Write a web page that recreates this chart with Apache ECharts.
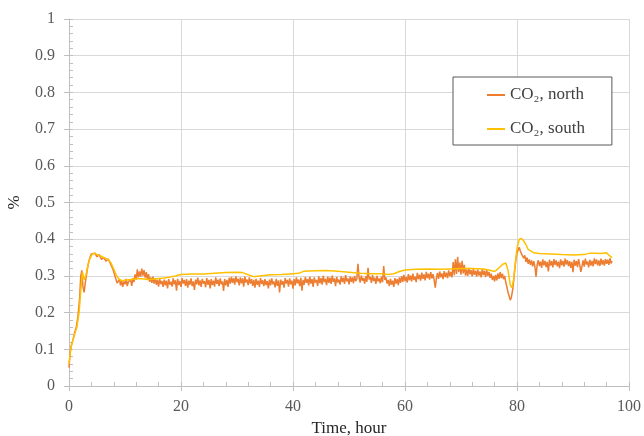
<!DOCTYPE html>
<html>
<head>
<meta charset="utf-8">
<script src="https://cdn.jsdelivr.net/npm/echarts@6/dist/echarts.min.js"></script>
<style>
html,body{margin:0;padding:0;background:#fff;}
#chart{width:644px;height:436px;}
</style>
</head>
<body>
<div id="chart"></div>
<script>
// ---- data ----
const seriesNames = ['CO\u2082, north', 'CO\u2082, south'];

// north: early transient (explicit times)
const northEarlyTime = [0, 0.2, 0.4, 0.7, 1.0, 1.3, 1.6, 1.9, 2.1, 2.3, 2.5, 2.7, 2.9, 3.1, 3.4, 3.7, 4.0, 4.3, 4.6, 5.0, 5.4, 5.8, 6.2, 6.6, 7.0, 7.4, 7.8, 8.2, 8.6];
const northEarly = [0.05, 0.09, 0.11, 0.125, 0.145, 0.16, 0.19, 0.24, 0.30, 0.315, 0.27, 0.255, 0.28, 0.30, 0.33, 0.348, 0.36, 0.356, 0.362, 0.352, 0.358, 0.345, 0.350, 0.340, 0.346, 0.333, 0.320, 0.300, 0.280];

// north: logged every 0.2 h from 9 h (rows of 2 h)
const northLogStart = 9;
const northLogStep = 0.2;
const northLog = [
  0.291, 0.274, 0.288, 0.270, 0.285, 0.277, 0.292, 0.272, 0.284, 0.279,
  0.289, 0.273, 0.294, 0.283, 0.304, 0.290, 0.318, 0.296, 0.312, 0.298,
  0.320, 0.301, 0.316, 0.295, 0.310, 0.289, 0.305, 0.284, 0.296, 0.281,
  0.298, 0.279, 0.293, 0.276, 0.289, 0.271, 0.292, 0.278, 0.286, 0.270,
  0.290, 0.274, 0.287, 0.266, 0.291, 0.276, 0.284, 0.271, 0.293, 0.277,
  0.288, 0.260, 0.292, 0.275, 0.286, 0.270, 0.294, 0.279, 0.289, 0.273,
  0.291, 0.268, 0.287, 0.276, 0.293, 0.272, 0.285, 0.262, 0.290, 0.277,
  0.295, 0.274, 0.288, 0.270, 0.292, 0.279, 0.286, 0.269, 0.294, 0.276,
  0.289, 0.266, 0.291, 0.275, 0.287, 0.271, 0.296, 0.278, 0.290, 0.272,
  0.293, 0.277, 0.285, 0.259, 0.292, 0.274, 0.289, 0.270, 0.295, 0.279,
  0.297, 0.281, 0.294, 0.276, 0.299, 0.283, 0.292, 0.274, 0.296, 0.280,
  0.293, 0.271, 0.298, 0.282, 0.290, 0.275, 0.296, 0.279, 0.291, 0.273,
  0.289, 0.268, 0.292, 0.276, 0.287, 0.270, 0.294, 0.278, 0.288, 0.272,
  0.291, 0.275, 0.286, 0.266, 0.290, 0.274, 0.293, 0.277, 0.285, 0.269,
  0.292, 0.273, 0.288, 0.255, 0.290, 0.276, 0.286, 0.268, 0.294, 0.279,
  0.289, 0.271, 0.293, 0.277, 0.287, 0.265, 0.291, 0.274, 0.296, 0.280,
  0.290, 0.272, 0.295, 0.260, 0.289, 0.276, 0.297, 0.281, 0.292, 0.274,
  0.298, 0.279, 0.291, 0.270, 0.296, 0.282, 0.289, 0.273, 0.299, 0.280,
  0.294, 0.276, 0.300, 0.283, 0.292, 0.275, 0.298, 0.281, 0.295, 0.278,
  0.301, 0.284, 0.293, 0.272, 0.297, 0.282, 0.290, 0.276, 0.299, 0.283,
  0.295, 0.278, 0.302, 0.285, 0.293, 0.277, 0.298, 0.284, 0.296, 0.280,
  0.300, 0.286, 0.292, 0.333, 0.295, 0.282, 0.301, 0.287, 0.294, 0.279,
  0.299, 0.284, 0.322, 0.290, 0.297, 0.281, 0.302, 0.286, 0.295, 0.278,
  0.300, 0.285, 0.293, 0.280, 0.298, 0.283, 0.327, 0.289, 0.296, 0.279,
  0.289, 0.272, 0.292, 0.276, 0.287, 0.270, 0.294, 0.279, 0.291, 0.275,
  0.296, 0.281, 0.299, 0.284, 0.303, 0.286, 0.297, 0.282, 0.305, 0.288,
  0.301, 0.285, 0.306, 0.289, 0.298, 0.283, 0.308, 0.291, 0.303, 0.287,
  0.309, 0.292, 0.304, 0.288, 0.311, 0.294, 0.306, 0.290, 0.310, 0.293,
  0.305, 0.289, 0.268, 0.293, 0.308, 0.292, 0.312, 0.296, 0.307, 0.291,
  0.313, 0.297, 0.309, 0.294, 0.315, 0.299, 0.311, 0.296, 0.338, 0.302,
  0.345, 0.305, 0.352, 0.310, 0.336, 0.303, 0.341, 0.307, 0.330, 0.301,
  0.318, 0.300, 0.322, 0.304, 0.316, 0.299, 0.320, 0.303, 0.314, 0.298,
  0.317, 0.301, 0.312, 0.296, 0.319, 0.302, 0.314, 0.297, 0.316, 0.300,
  0.311, 0.295, 0.306, 0.289, 0.300, 0.285, 0.303, 0.288, 0.307, 0.292,
  0.310, 0.294, 0.306, 0.291, 0.300, 0.282, 0.270, 0.255, 0.245, 0.234,
  0.242, 0.260, 0.285, 0.318, 0.345, 0.362, 0.370, 0.378, 0.368, 0.360,
  0.365, 0.348, 0.356, 0.338, 0.350, 0.333, 0.345, 0.330, 0.342, 0.326,
  0.340, 0.325, 0.298, 0.331, 0.343, 0.327, 0.339, 0.322, 0.345, 0.329,
  0.341, 0.324, 0.338, 0.312, 0.344, 0.328, 0.340, 0.323, 0.346, 0.330,
  0.342, 0.326, 0.339, 0.321, 0.345, 0.329, 0.341, 0.325, 0.347, 0.331,
  0.343, 0.327, 0.340, 0.322, 0.338, 0.310, 0.344, 0.328, 0.341, 0.324,
  0.346, 0.330, 0.311, 0.326, 0.342, 0.325, 0.347, 0.331, 0.339, 0.323,
  0.344, 0.328, 0.341, 0.326, 0.348, 0.332, 0.345, 0.329, 0.342, 0.327,
  0.347, 0.331, 0.343, 0.328, 0.346, 0.333, 0.344, 0.330, 0.348, 0.334,
  0.340
];

// south (smoother)
const southTime = [
  0, 0.3, 0.6, 1.0, 1.4, 1.8, 2.1, 2.4, 2.7, 3.0,
  3.4, 3.8, 4.2, 4.6, 5.0, 5.5, 6.0, 6.5, 7.0, 7.5,
  8.0, 8.5, 9.0, 9.5, 10, 11, 12, 13, 14, 15,
  16, 17, 18, 19, 20, 22, 24, 26, 28, 30,
  31, 32, 33, 34, 36, 38, 40, 41, 42, 44,
  46, 48, 50, 52, 54, 56, 57, 58, 59, 60,
  62, 64, 66, 68, 70, 72, 74, 75, 76, 76.5,
  77, 77.5, 78, 78.4, 78.8, 79.1, 79.4, 79.7, 80, 80.4,
  80.8, 81.2, 81.6, 82, 83, 84, 86, 88, 90, 92,
  93, 94, 95, 96, 96.5, 97
];
const south = [
  0.06, 0.10, 0.12, 0.14, 0.16, 0.20, 0.26, 0.31, 0.29, 0.30,
  0.33, 0.35, 0.36, 0.362, 0.358, 0.355, 0.352, 0.348, 0.345, 0.335,
  0.318, 0.300, 0.290, 0.287, 0.288, 0.290, 0.292, 0.292, 0.290, 0.291,
  0.293, 0.294, 0.297, 0.300, 0.304, 0.305, 0.305, 0.307, 0.309, 0.310,
  0.309, 0.303, 0.298, 0.300, 0.303, 0.304, 0.306, 0.307, 0.313, 0.314,
  0.315, 0.313, 0.310, 0.307, 0.306, 0.306, 0.304, 0.306, 0.312, 0.316,
  0.318, 0.319, 0.318, 0.319, 0.320, 0.320, 0.319, 0.316, 0.312, 0.318,
  0.325, 0.332, 0.335, 0.315, 0.275, 0.268, 0.290, 0.335, 0.375, 0.400,
  0.402, 0.395, 0.385, 0.372, 0.363, 0.361, 0.360, 0.358, 0.357, 0.358,
  0.362, 0.362, 0.361, 0.363, 0.355, 0.350
];

const xName = 'Time, hour';
const yName = '%';

// ---- build series data ----
const northData = northEarlyTime.map((t, i) => [t, northEarly[i]])
  .concat(northLog.map((v, i) => [+(northLogStart + i * northLogStep).toFixed(2), v]));
const southData = southTime.map((t, i) => [t, south[i]]);

const FONT = '"Liberation Serif", "DejaVu Serif", serif';
const AXIS_COLOR = '#BFBFBF';
const GRID_COLOR = '#D9D9D9';
const LABEL_COLOR = '#595959';

const chart = echarts.init(document.getElementById('chart'), null, {renderer: 'canvas'});
chart.setOption({
  backgroundColor: '#ffffff',
  animation: false,
  textStyle: {fontFamily: FONT},
  grid: {left: 69, right: 15, top: 19, bottom: 50, containLabel: false, outerBoundsMode: 'none'},
  legend: {
    orient: 'vertical',
    left: 453, top: 77,
    padding: [9, 27, 7, 34],
    itemGap: 16,
    itemWidth: 18,
    itemHeight: 2,
    itemTextGap: 3,
    icon: 'rect',
    borderColor: '#595959',
    borderWidth: 1,
    backgroundColor: '#ffffff',
    textStyle: {fontFamily: FONT, fontSize: 17, color: '#404040', lineHeight: 18},
    data: seriesNames
  },
  xAxis: [{
    type: 'value', min: 0, max: 100, interval: 20,
    name: xName, nameLocation: 'middle', nameGap: 33,
    nameTextStyle: {fontFamily: FONT, fontSize: 17, color: '#262626'},
    axisLine: {show: true, lineStyle: {color: AXIS_COLOR, width: 1}},
    axisTick: {show: true, length: 5, lineStyle: {color: AXIS_COLOR}},
    axisLabel: {fontFamily: FONT, fontSize: 16, color: LABEL_COLOR, margin: 13},
    splitLine: {show: true, lineStyle: {color: GRID_COLOR, width: 1}}
  }, {
    type: 'value', min: 0, max: 100, interval: 4, position: 'bottom',
    axisLine: {show: false},
    axisTick: {show: true, inside: true, length: 4, lineStyle: {color: AXIS_COLOR}},
    axisLabel: {show: false},
    splitLine: {show: false}
  }],
  yAxis: [{
    type: 'value', min: 0, max: 1, interval: 0.1,
    name: yName, nameLocation: 'middle', nameGap: 46, nameRotate: 90,
    nameTextStyle: {fontFamily: FONT, fontSize: 17, color: '#262626'},
    axisLine: {show: true, lineStyle: {color: AXIS_COLOR, width: 1}},
    axisTick: {show: true, length: 5, lineStyle: {color: AXIS_COLOR}},
    axisLabel: {fontFamily: FONT, fontSize: 16, color: LABEL_COLOR, margin: 14},
    splitLine: {show: true, lineStyle: {color: GRID_COLOR, width: 1}}
  }, {
    type: 'value', min: 0, max: 1, interval: 0.02, position: 'left',
    axisLine: {show: false},
    axisTick: {show: true, inside: true, length: 4, lineStyle: {color: AXIS_COLOR}},
    axisLabel: {show: false},
    splitLine: {show: false}
  }],
  series: [{
    name: seriesNames[0], type: 'line', xAxisIndex: 0, yAxisIndex: 0,
    data: northData, showSymbol: false, symbol: 'none',
    lineStyle: {color: '#ED7D31', width: 1.5},
    itemStyle: {color: '#ED7D31'},
    z: 2
  }, {
    name: seriesNames[1], type: 'line', xAxisIndex: 0, yAxisIndex: 0,
    data: southData, showSymbol: false, symbol: 'none',
    lineStyle: {color: '#FFC000', width: 1.5},
    itemStyle: {color: '#FFC000'},
    z: 3
  }]
});
</script>
</body>
</html>
